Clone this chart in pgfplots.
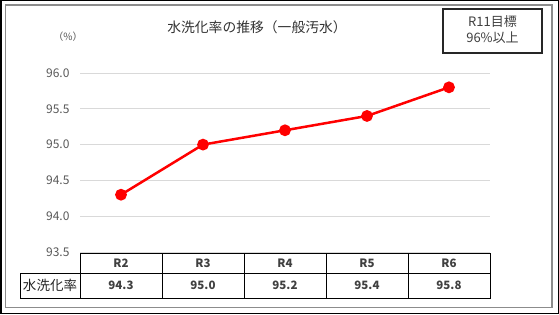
\documentclass[border=0pt]{standalone}
\usepackage{pgfplots}
\pgfplotsset{compat=1.18}
\usepackage{pgfplotstable}
\usepackage{fontspec}
\setmainfont{Noto Sans CJK JP}
\definecolor{tickgray}{HTML}{595959}
\definecolor{txt}{HTML}{404040}
\definecolor{gridc}{HTML}{D9D9D9}
\definecolor{frameg}{HTML}{8C8C8C}
\pgfplotstableread{
x label val
0 R2 94.3
1 R3 95.0
2 R4 95.2
3 R5 95.4
4 R6 95.8
}\datatable
\begin{document}
\begin{tikzpicture}
\useasboundingbox (0pt,0pt) rectangle (559pt,314pt);
\fill[white] (0pt,0pt) rectangle (559pt,314pt);
\draw[black,line width=1.5pt] (0.75pt,0.75pt) rectangle (558.25pt,313.25pt);
\draw[frameg,line width=1.5pt] (5.5pt,6.5pt) rectangle (552pt,309pt);
\begin{axis}[
  at={(80pt,62pt)}, anchor=south west,
  scale only axis, width=410pt, height=179pt,
  xmin=-0.5, xmax=4.5, ymin=93.5, ymax=96.0,
  xtick=\empty,
  ytick={93.5,94.0,94.5,95.0,95.5,96.0},
  yticklabel style={/pgf/number format/fixed,/pgf/number format/fixed zerofill,/pgf/number format/precision=1,/pgf/number format/assume math mode=true},
  yticklabel style={font=\fontsize{12}{14}\selectfont, text=tickgray, xshift=-7pt},
  major tick length=0pt,
  axis line style={draw=none},
  ymajorgrids, grid style={gridc, line width=1pt},
  clip=false,
]
\addplot[color=red, line width=2.5pt, mark=*, mark size=4.6pt, mark options={solid, fill=red, draw=none}] table[x=x,y=val] {\datatable};
\end{axis}
% title and labels
\node[text=black!80, font=\fontsize{13.8}{15}\selectfont] at (257pt,287pt) {水洗化率の推移（一般汚水）};
\node[text=tickgray, font=\fontsize{10}{12}\selectfont] at (68pt,277pt) {（\%）};
\draw[black!85, line width=1.2pt] (443pt,261pt) rectangle (542pt,305pt);
\node[text=txt, font=\fontsize{13}{15}\selectfont] at (492.5pt,292pt) {R11目標};
\node[text=txt, font=\fontsize{13}{15}\selectfont] at (492.5pt,276pt) {96\%以上};
% data table
\draw[black, line width=1pt] (80pt,61pt) rectangle (490pt,41pt);
\draw[black, line width=1pt] (20pt,41pt) rectangle (490pt,16pt);
\foreach \i in {1,...,4} {
  \draw[black, line width=1pt] (80pt+82pt*\i,61pt) -- (80pt+82pt*\i,16pt);
}
\draw[black, line width=1pt] (80pt,41pt) -- (80pt,16pt);
\node[font=\fontsize{13.5}{15}\selectfont, text=black!85] at (50pt,28.5pt) {水洗化率};
\foreach \lab/\v [count=\k from 0] in {R2/94.3,R3/95.0,R4/95.2,R5/95.4,R6/95.8} {
  \node[font=\bfseries\fontsize{11.5}{13}\selectfont, text=txt] at (121pt+82pt*\k,51pt) {\lab};
  \node[font=\bfseries\fontsize{11.5}{13}\selectfont, text=txt] at (121pt+82pt*\k,28.5pt) {\v};
}
\end{tikzpicture}
\end{document}
